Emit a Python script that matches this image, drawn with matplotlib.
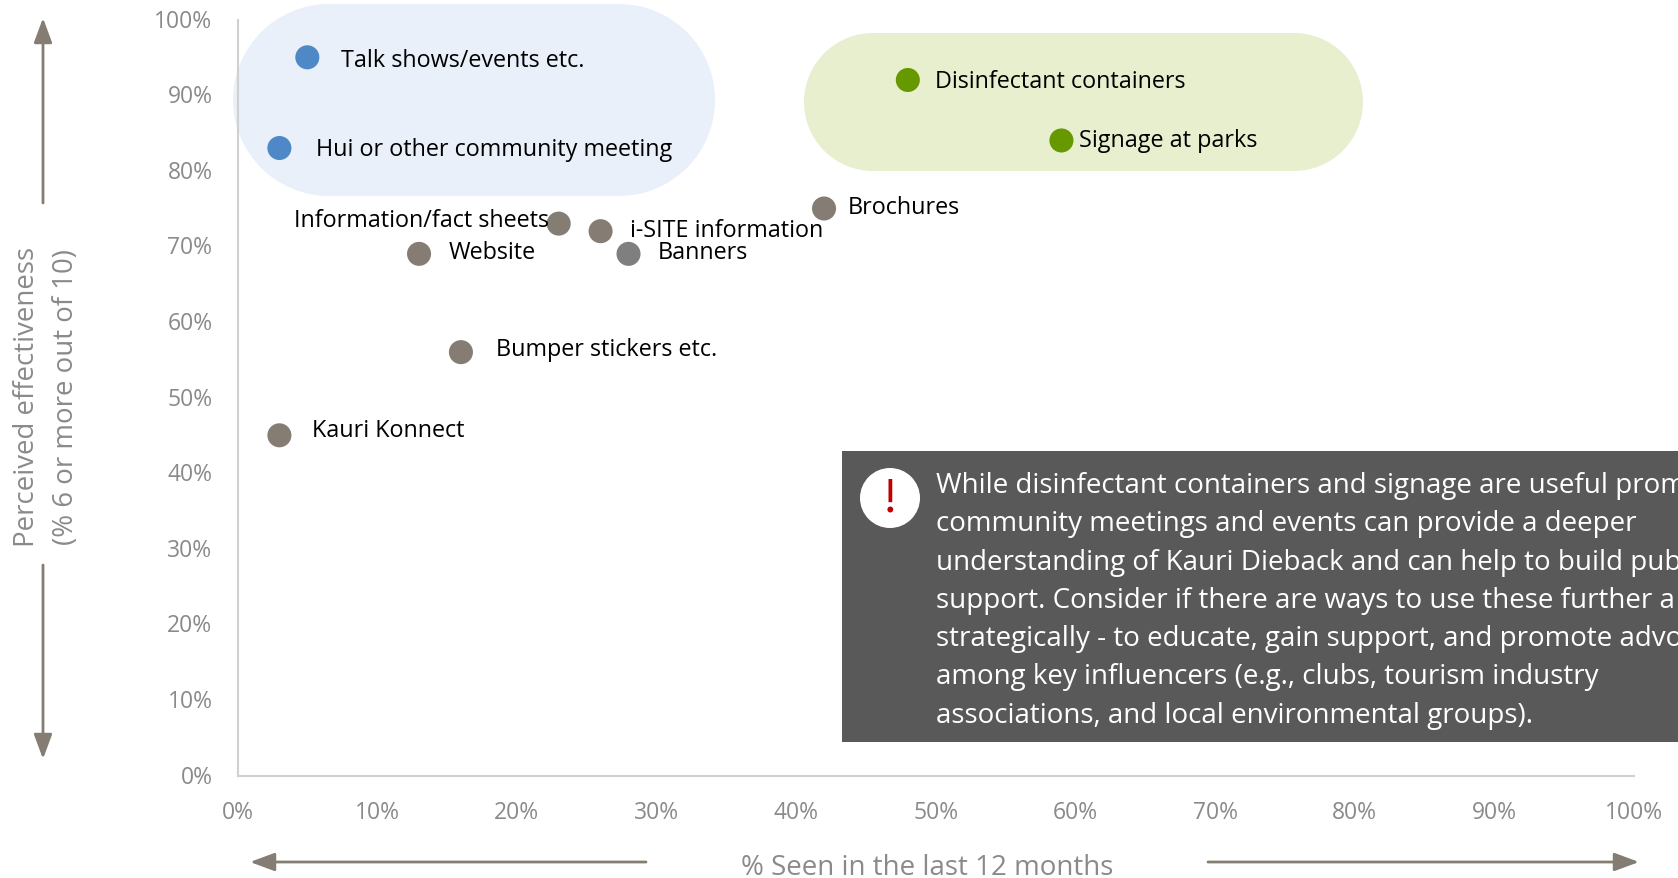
import matplotlib
matplotlib.use("Agg")
import matplotlib.pyplot as plt
from matplotlib.patches import Rectangle, Circle, FancyArrowPatch
from matplotlib.ticker import PercentFormatter
from matplotlib.transforms import ScaledTranslation

plt.rcParams["font.family"] = ["Open Sans", "DejaVu Sans"]

W, H = 1678, 879

names = ["Talk shows/events etc.", "Hui or other community meeting", "Disinfectant containers",
         "Signage at parks", "Brochures", "Information/fact sheets", "i-SITE information",
         "Website", "Banners", "Bumper stickers etc.", "Kauri Konnect"]
seen = [5, 3, 48, 59, 42, 23, 26, 13, 28, 16, 3]
effective = [95, 83, 92, 84, 75, 73, 72, 69, 69, 56, 45]
colors = ["#4f88c6", "#4f88c6", "#669900", "#669900", "#857d74", "#857d74", "#857d74",
          "#857d74", "#7f7f7f", "#857d74", "#857d74"]
# label offset from the point in pixels, and alignment
label_dx = [34, 37, 27, 18, 24, -10, 29, 30, 29, 35, 33]
label_dy = [-3, -1, -1, 0, 1, 4, 1, 2, 2, 3, 5]
label_ha = ["left", "left", "left", "left", "left", "right", "left", "left", "left", "left", "left"]

# the box runs off the right edge of the picture, lines stop where they are cut
note_lines = [
    "While disinfectant containers and signage are useful prom",
    "community meetings and events can provide a deeper",
    "understanding of Kauri Dieback and can help to build pub",
    "support. Consider if there are ways to use these further a",
    "strategically - to educate, gain support, and promote advo",
    "among key influencers (e.g., clubs, tourism industry",
    "associations, and local environmental groups).",
]
ticks = list(range(0, 101, 10))

fig = plt.figure(figsize=(W / 100, H / 100), dpi=100, facecolor="white")


def fx(x):
    return x / W


def fy(y):
    return 1 - y / H


ax = fig.add_axes([fx(237.5), fy(776.5), (1634 - 237.5) / W, (776.5 - 20.5) / H], zorder=2)
ax.patch.set_alpha(0)
ax.set_xlim(0, 100)
ax.set_ylim(0, 100)
for s in ["top", "right"]:
    ax.spines[s].set_visible(False)
for s in ["left", "bottom"]:
    ax.spines[s].set_color("#d0d0d0")
    ax.spines[s].set_linewidth(1.5)
ax.set_xticks(ticks)
ax.set_yticks(ticks)
ax.xaxis.set_major_formatter(PercentFormatter(100, decimals=0))
ax.yaxis.set_major_formatter(PercentFormatter(100, decimals=0))
ax.tick_params(length=0, labelsize=16.5, labelcolor="#8a8a8a")
ax.tick_params(axis="x", pad=17.5)
ax.tick_params(axis="y", pad=18)
# y tick labels sit a little above their tick
nudge = ScaledTranslation(0, 1.3 / 72, fig.dpi_scale_trans)
for lab in ax.get_yticklabels():
    lab.set_transform(lab.get_transform() + nudge)

# background blobs sit in a full figure overlay in pixels
bg = fig.add_axes([0, 0, 1, 1], zorder=1)
bg.set_xlim(0, W)
bg.set_ylim(H, 0)
bg.axis("off")


def stadium(x0, x1, y0, y1, color):
    r = (y1 - y0) / 2
    bg.add_patch(Rectangle((x0 + r, y0), x1 - x0 - 2 * r, y1 - y0, fc=color, ec="none"))
    bg.add_patch(Circle((x0 + r, y0 + r), r, fc=color, ec="none"))
    bg.add_patch(Circle((x1 - r, y0 + r), r, fc=color, ec="none"))


stadium(233, 715, 5, 197, "#e9f0f9")
stadium(804, 1363, 34, 172, "#e8efcf")

ax.scatter(seen, effective, s=300, c=colors, linewidths=0, zorder=3, clip_on=False)
for name, x, y, dx, dy, ha in zip(names, seen, effective, label_dx, label_dy, label_ha):
    ax.annotate(name, (x, y), xytext=(dx * 0.72, dy * 0.72), textcoords="offset points",
                fontsize=16.8, color="black", ha=ha, va="center", zorder=4)

top = fig.add_axes([0, 0, 1, 1], zorder=5)
top.set_xlim(0, W)
top.set_ylim(H, 0)
top.axis("off")
top.add_patch(Rectangle((842, 451.5), W - 842, 291.5, fc="#595959", ec="none"))
top.add_patch(Circle((890, 499), 30, fc="white", ec="none"))
top.text(890, 499, "!", color="#c00000", fontsize=36, family="Liberation Serif",
         ha="center", va="center")
for i, line in enumerate(note_lines):
    top.text(936, 486 + i * 38.3, line, color="white", fontsize=20, va="center", ha="left", clip_on=True)

ARROW = "#857d74"


def arrow(x0, y0, x1, y1):
    top.add_patch(FancyArrowPatch((x0, y0), (x1, y1), arrowstyle="-|>,head_length=10,head_width=3.7",
                                  color=ARROW, lw=2, shrinkA=0, shrinkB=0, mutation_scale=1.5))


arrow(43, 204, 43, 19)
arrow(43, 566, 43, 760)
arrow(646, 863, 250, 863)
arrow(1208, 863, 1639, 863)

top.text(27, 397, "Perceived effectiveness", rotation=90, color="#8a8a8a", fontsize=19.9, ha="center", va="center")
top.text(66, 397, "(% 6 or more out of 10)", rotation=90, color="#8a8a8a", fontsize=19.9, ha="center", va="center")
top.text(927, 868, "% Seen in the last 12 months", color="#8a8a8a", fontsize=20, ha="center", va="center")

fig.savefig("out.png", dpi=100)
